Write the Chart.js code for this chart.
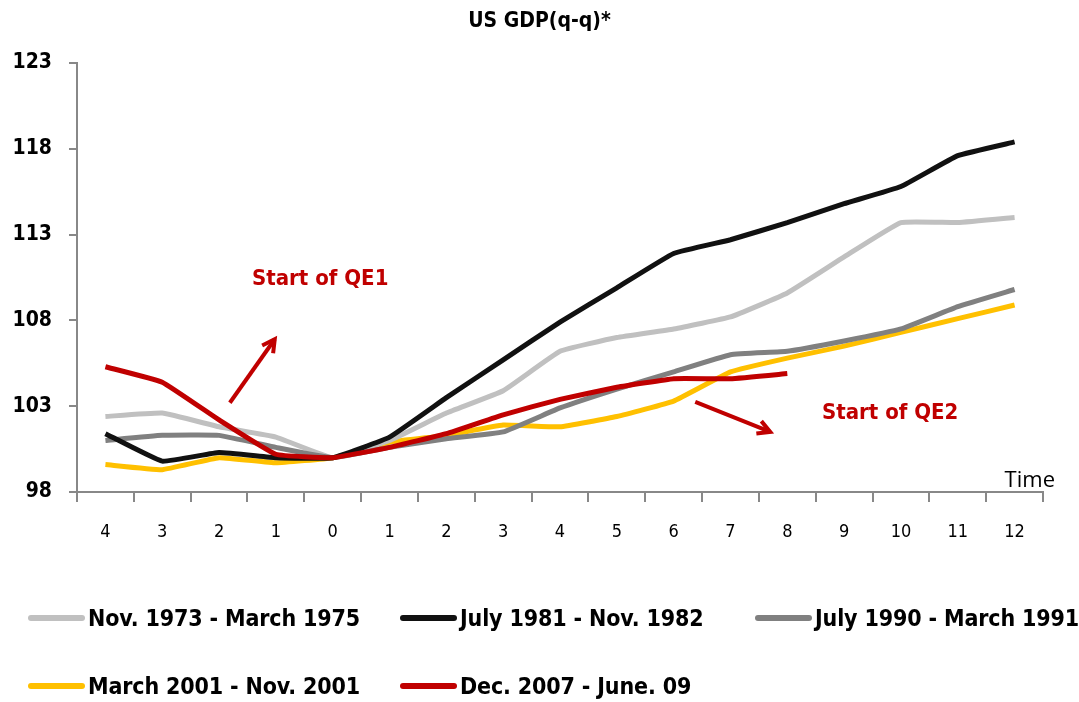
<!DOCTYPE html>
<html>
<head>
<meta charset="utf-8">
<script src="https://cdn.jsdelivr.net/npm/chart.js@4"></script>
<style>
body{margin:0;background:#fff;width:1079px;height:702px;overflow:hidden;font-family:"DejaVu Sans Condensed",sans-serif}
#wrap{position:absolute;left:0;top:0;width:1079px;height:560px}
#title{position:absolute;left:0;width:1079px;top:8px;text-align:center;font-weight:bold;font-size:21px;color:#000}
#legend{position:absolute;left:0;top:0;width:1079px;height:702px;pointer-events:none}
.item{position:absolute;display:flex;align-items:center;font-weight:bold;font-size:23px;letter-spacing:-0.15px;color:#000;white-space:nowrap}
.item span.l{display:inline-block;width:57px;height:6px;border-radius:3px;margin-right:3px}
</style>
</head>
<body>
<div id="wrap"><canvas id="c" width="1079" height="560"></canvas></div>
<div id="title">US GDP(q-q)*</div>
<div id="legend"></div>
<script>
const labels=["4","3","2","1","0","1","2","3","4","5","6","7","8","9","10","11","12"]
const names=["Nov. 1973 - March 1975","July 1981 - Nov. 1982","July 1990 - March 1991","March 2001 - Nov. 2001","Dec. 2007 - June. 09"]
const colors=["#c0c0c0","#111111","#808080","#ffc000","#c00000"]
const nov73=[102.4,102.6,101.8,101.2,100.0,101.0,102.6,103.9,106.2,107.0,107.5,108.2,109.6,111.7,113.7,113.7,114.0]
const jul81=[101.4,99.8,100.3,100.0,100.0,101.2,103.5,105.7,107.9,109.9,111.9,112.7,113.7,114.8,115.8,117.6,118.4]
const jul90=[101.0,101.3,101.3,100.6,100.0,100.6,101.1,101.5,102.9,104.0,105.0,106.0,106.2,106.8,107.5,108.8,109.8]
const mar01=[99.6,99.3,100.0,99.7,100.0,100.9,101.3,101.9,101.8,102.4,103.3,105.0,105.8,106.5,107.3,108.1,108.9]
const dec07=[105.3,104.4,102.2,100.2,100.0,100.6,101.4,102.5,103.4,104.1,104.6,104.6,104.9,null,null,null,null]
const series=[nov73,jul81,jul90,mar01,dec07]
const yTicks=[98,103,108,113,118,123]

// annotations in data units (x = category index)
const notes=[
{text:"Start of QE1",x:3.78,y:110.4,from:[2.19,103.2],to:[2.98,106.9]},
{text:"Start of QE2",x:13.81,y:102.6,from:[10.38,103.25],to:[11.7,101.5]}
]

const fam='"DejaVu Sans Condensed",sans-serif'

const extras={
id:"extras",
afterDatasetsDraw(chart){
const ctx=chart.ctx
const xs=chart.scales.x,ys=chart.scales.y
ctx.save()
ctx.fillStyle="#c00000"
ctx.strokeStyle="#c00000"
ctx.font='bold 22px '+fam
ctx.textAlign="center"
ctx.textBaseline="middle"
notes.forEach(n=>{
ctx.fillText(n.text,xs.getPixelForValue(n.x),ys.getPixelForValue(n.y))
let x1=xs.getPixelForValue(n.from[0]),y1=ys.getPixelForValue(n.from[1])
let x2=xs.getPixelForValue(n.to[0]),y2=ys.getPixelForValue(n.to[1])
ctx.lineWidth=4
ctx.beginPath()
ctx.moveTo(x1,y1)
ctx.lineTo(x2,y2)
ctx.stroke()
let a=Math.atan2(y2-y1,x2-x1)
ctx.beginPath()
ctx.moveTo(x2-14*Math.cos(a-0.5),y2-14*Math.sin(a-0.5))
ctx.lineTo(x2,y2)
ctx.lineTo(x2-14*Math.cos(a+0.5),y2-14*Math.sin(a+0.5))
ctx.stroke()
})
ctx.fillStyle="#000"
ctx.font='22px "Open Sans",sans-serif'
ctx.textAlign="right"
ctx.textBaseline="alphabetic"
ctx.fillText("Time",chart.chartArea.right+12,chart.chartArea.bottom-5)
ctx.restore()
}
}

new Chart(document.getElementById("c"),{
type:"line",
data:{
labels:labels,
datasets:series.map((s,i)=>({
label:names[i],
data:s,
borderColor:colors[i],
backgroundColor:colors[i],
borderWidth:5,
pointRadius:0,
tension:0.1,
order:[3,1,2,4,0][i]
}))
},
options:{
responsive:false,
animation:false,
devicePixelRatio:1,
layout:{padding:{left:0,right:36,top:63,bottom:0}},
plugins:{
legend:{display:false},
tooltip:{enabled:false},
title:{display:false}
},
scales:{
x:{
offset:true,
grid:{offset:true,drawOnChartArea:false,tickLength:10,color:"#888",lineWidth:2},
border:{color:"#888",width:2},
ticks:{color:"#000",font:{family:fam,size:18},padding:20,maxRotation:0},
afterFit:s=>{s.height=68}
},
y:{
min:98,max:123,
afterBuildTicks:s=>{s.ticks=yTicks.map(v=>({value:v}))},
grid:{drawOnChartArea:false,tickLength:8,color:"#888",lineWidth:2},
border:{color:"#888",width:2},
ticks:{color:"#000",font:{family:fam,size:21,weight:"bold"},padding:17},
afterFit:s=>{s.width=77}
}
}
},
plugins:[extras]
})
</script>
<script>
const lg=document.getElementById("legend")
const pos=[[28,620],[400,620],[755,620],[28,688],[400,688]]
names.forEach((n,i)=>{
let d=document.createElement("div")
d.className="item"
d.style.left=pos[i][0]+"px"
d.style.top=(pos[i][1]-15)+"px"
d.innerHTML=`<span class="l" style="background:${colors[i]}"></span>${n}`
lg.appendChild(d)
})
</script>
</body>
</html>
